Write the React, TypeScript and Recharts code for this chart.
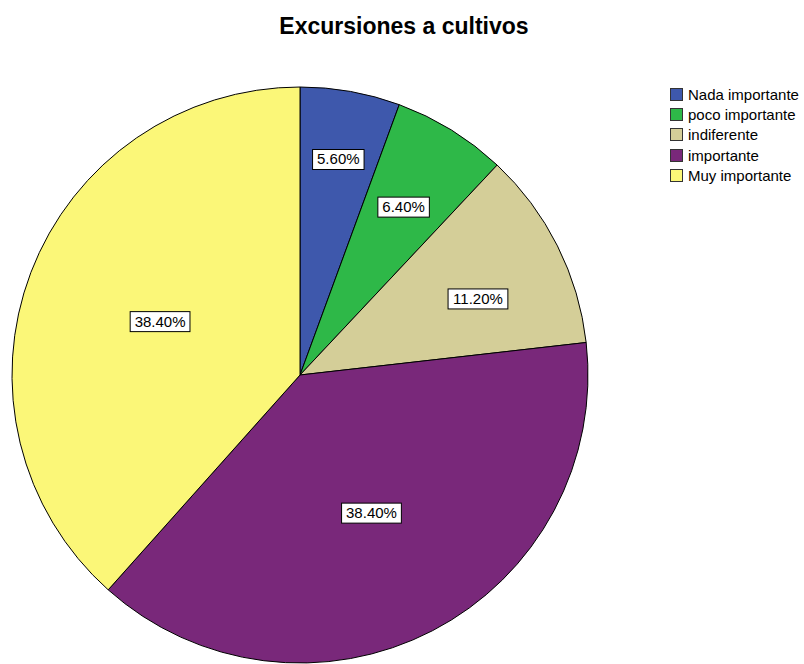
import { PieChart, Pie, Cell, Legend } from "recharts";

const categories = ["Nada importante", "poco importante", "indiferente", "importante", "Muy importante"];
const percents = [5.6, 6.4, 11.2, 38.4, 38.4];
const colors = ["#3E58AC", "#2EB848", "#D4CE98", "#79287A", "#FBF778"];

// label distance from the centre (share of the radius) and small angle nudges
const labelPos = [0.76, 0.685, 0.672, 0.54, 0.52];
const labelTurn = [0, 0, -3.5, 0, 0];

const data = categories.map((name, i) => ({ name, value: percents[i] }));

const RAD = Math.PI / 180;
const FONT = "'Liberation Sans', Arial, sans-serif";

function renderLabel(props: any) {
  const { cx, cy, midAngle, outerRadius, index, value } = props;
  const r = outerRadius * labelPos[index];
  const a = midAngle + labelTurn[index];
  const x = cx + r * Math.cos(-a * RAD);
  const y = cy + r * Math.sin(-a * RAD);
  const text = value.toFixed(2) + "%";
  const w = text.length * 8.3 + 10;
  const h = 20;
  return (
    <g>
      <rect x={x - w / 2} y={y - h / 2} width={w} height={h} fill="#fff" stroke="#000" strokeWidth={1} />
      <text x={x} y={y + 5} textAnchor="middle" fontSize={15} fontFamily={FONT} fill="#000">
        {text}
      </text>
    </g>
  );
}

function LegendBox({ payload }: any) {
  return (
    <div style={{ fontFamily: FONT, fontSize: 15, color: "#000" }}>
      {(payload || []).map((p: any, i: number) => (
        <div key={i} style={{ display: "flex", alignItems: "center", height: 20.3 }}>
          <span
            style={{
              display: "inline-block",
              width: 13,
              height: 13,
              background: colors[i],
              border: "1px solid #333",
              marginRight: 5,
              boxSizing: "border-box",
            }}
          />
          <span>{categories[i]}</span>
        </div>
      ))}
    </div>
  );
}

export default function App() {
  return (
    <div style={{ position: "absolute", left: 0, top: 0, width: 804, height: 664, background: "#fff" }}>
      <div
        style={{
          position: "absolute",
          left: 0,
          width: 808,
          top: 13,
          textAlign: "center",
          fontFamily: FONT,
          fontWeight: "bold",
          fontSize: 23,
          color: "#000",
        }}
      >
        Excursiones a cultivos
      </div>
      <PieChart
        width={804}
        height={664}
        margin={{ top: 0, right: 0, bottom: 0, left: 0 }}
        style={{ position: "absolute", left: 0, top: 0 }}
      >
        <Pie
          data={data}
          dataKey="value"
          nameKey="name"
          cx={300}
          cy={375}
          outerRadius={288}
          startAngle={90}
          endAngle={-270}
          stroke="#000"
          strokeWidth={1}
          label={renderLabel}
          labelLine={false}
          isAnimationActive={false}
        >
          {data.map((d, i) => (
            <Cell key={d.name} fill={colors[i]} />
          ))}
        </Pie>
        <Legend
          layout="vertical"
          content={<LegendBox />}
          wrapperStyle={{ position: "absolute", left: 670, top: 84, width: 140 }}
        />
      </PieChart>
    </div>
  );
}
